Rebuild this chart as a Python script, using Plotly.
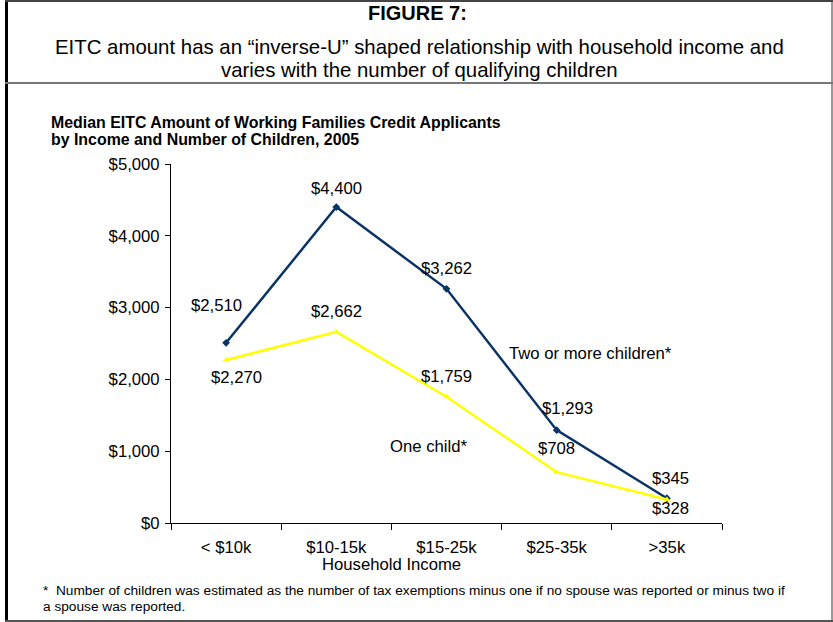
import plotly.graph_objects as go

# data
income_groups = ["< $10k", "$10-15k", "$15-25k", "$25-35k", ">35k"]
two_plus_children = [2510, 4400, 3262, 1293, 345]
one_child = [2270, 2662, 1759, 708, 328]
y_ticks = [0, 1000, 2000, 3000, 4000, 5000]
y_tick_text = [f"${v:,}" for v in y_ticks]

W, H = 833, 622
# plot area in pixels
L, R, T, B = 171, 722, 164, 523
FONT = "Liberation Sans, Arial, sans-serif"
TXT = 16.7


def px(x):
    return (x - L) / (R - L)


def py(y):
    return (B - y) / (B - T)


def label(fig, x, y, text, size, anchor="center", bold=False):
    if bold:
        text = f"<b>{text}</b>"
    fig.add_annotation(x=px(x), y=py(y), xref="paper", yref="paper", text=text,
                       xanchor=anchor, yanchor="middle", showarrow=False,
                       font=dict(size=size, color="black"))


fig = go.Figure()

fig.add_trace(go.Scatter(
    x=income_groups, y=two_plus_children, mode="lines+markers",
    line=dict(color="#0b3466", width=2.5),
    marker=dict(symbol="diamond", size=6, color="#0b3466"),
    cliponaxis=False, showlegend=False,
))
fig.add_trace(go.Scatter(
    x=income_groups, y=one_child, mode="lines+markers",
    line=dict(color="#ffff00", width=2.5),
    marker=dict(symbol="triangle-up", size=6, color="#ffff00"),
    cliponaxis=False, showlegend=False,
))

# data labels (offsets in pixels from the point)
two_offsets = [(-10, 37), (0, 19), (0, 20), (11, 22), (4, 20)]
one_offsets = [(10, -17), (0, 20), (0, 20), (0, 24), (4, -9)]
for series, offsets in [(two_plus_children, two_offsets), (one_child, one_offsets)]:
    for cat, val, (dx, dy) in zip(income_groups, series, offsets):
        fig.add_annotation(x=cat, y=val, text=f"${val:,}", showarrow=False,
                           xshift=dx, yshift=dy, font=dict(size=TXT, color="black"))

# series labels
label(fig, 590, 353, "Two or more children*", TXT)
label(fig, 428, 446, "One child*", TXT)
label(fig, 391, 564, "Household Income", TXT)

# header
label(fig, 417, 13, "FIGURE 7:", 20, bold=True)
label(fig, 419, 47, "EITC amount has an \u201cinverse-U\u201d shaped relationship with household income and", 20.4)
label(fig, 419, 70, "varies with the number of qualifying children", 20.4)

# chart title
label(fig, 49, 122, "Median EITC Amount of Working Families Credit Applicants", 15.9, anchor="left", bold=True)
label(fig, 49, 140, "by Income and Number of Children, 2005", 15.9, anchor="left", bold=True)

# footnote
label(fig, 41, 590, "*  Number of children was estimated as the number of tax exemptions minus one if no spouse was reported or minus two if", 13.7, anchor="left")
label(fig, 41, 606, "a spouse was reported.", 13.7, anchor="left")

# frame
frame = [
    (6.5, 0, 6.5, 622, "black", 3),
    (832, 0, 832, 622, "#999999", 2),
    (5, 1, 833, 1, "#444444", 2),
    (5, 83, 833, 83, "#777777", 2),
    (5, 621, 833, 621, "#555555", 2),
]
for x0, y0, x1, y1, col, w in frame:
    fig.add_shape(type="line", xref="paper", yref="paper",
                  x0=px(x0), y0=py(y0), x1=px(x1), y1=py(y1),
                  line=dict(color=col, width=w))

fig.update_xaxes(
    type="category", range=[-0.5, 4.5], tickson="boundaries",
    ticks="outside", ticklen=6, tickcolor="black", ticklabelstandoff=9,
    showline=True, linecolor="black", linewidth=1, showgrid=False,
    tickfont=dict(size=TXT, color="black"),
)
fig.update_yaxes(
    range=[0, 5000], tickvals=y_ticks, ticktext=y_tick_text,
    ticks="outside", ticklen=5, tickcolor="black", ticklabelstandoff=2,
    showline=True, linecolor="black", linewidth=1, showgrid=False, zeroline=False,
    tickfont=dict(size=TXT, color="black"),
)

fig.update_layout(
    width=W, height=H,
    margin=dict(l=L, r=W - R, t=T, b=H - B),
    paper_bgcolor="white", plot_bgcolor="white",
    font=dict(family=FONT, color="black"),
)

fig.write_html("out.html", config={"displayModeBar": False},
               post_script="document.body.style.margin = '0';")
